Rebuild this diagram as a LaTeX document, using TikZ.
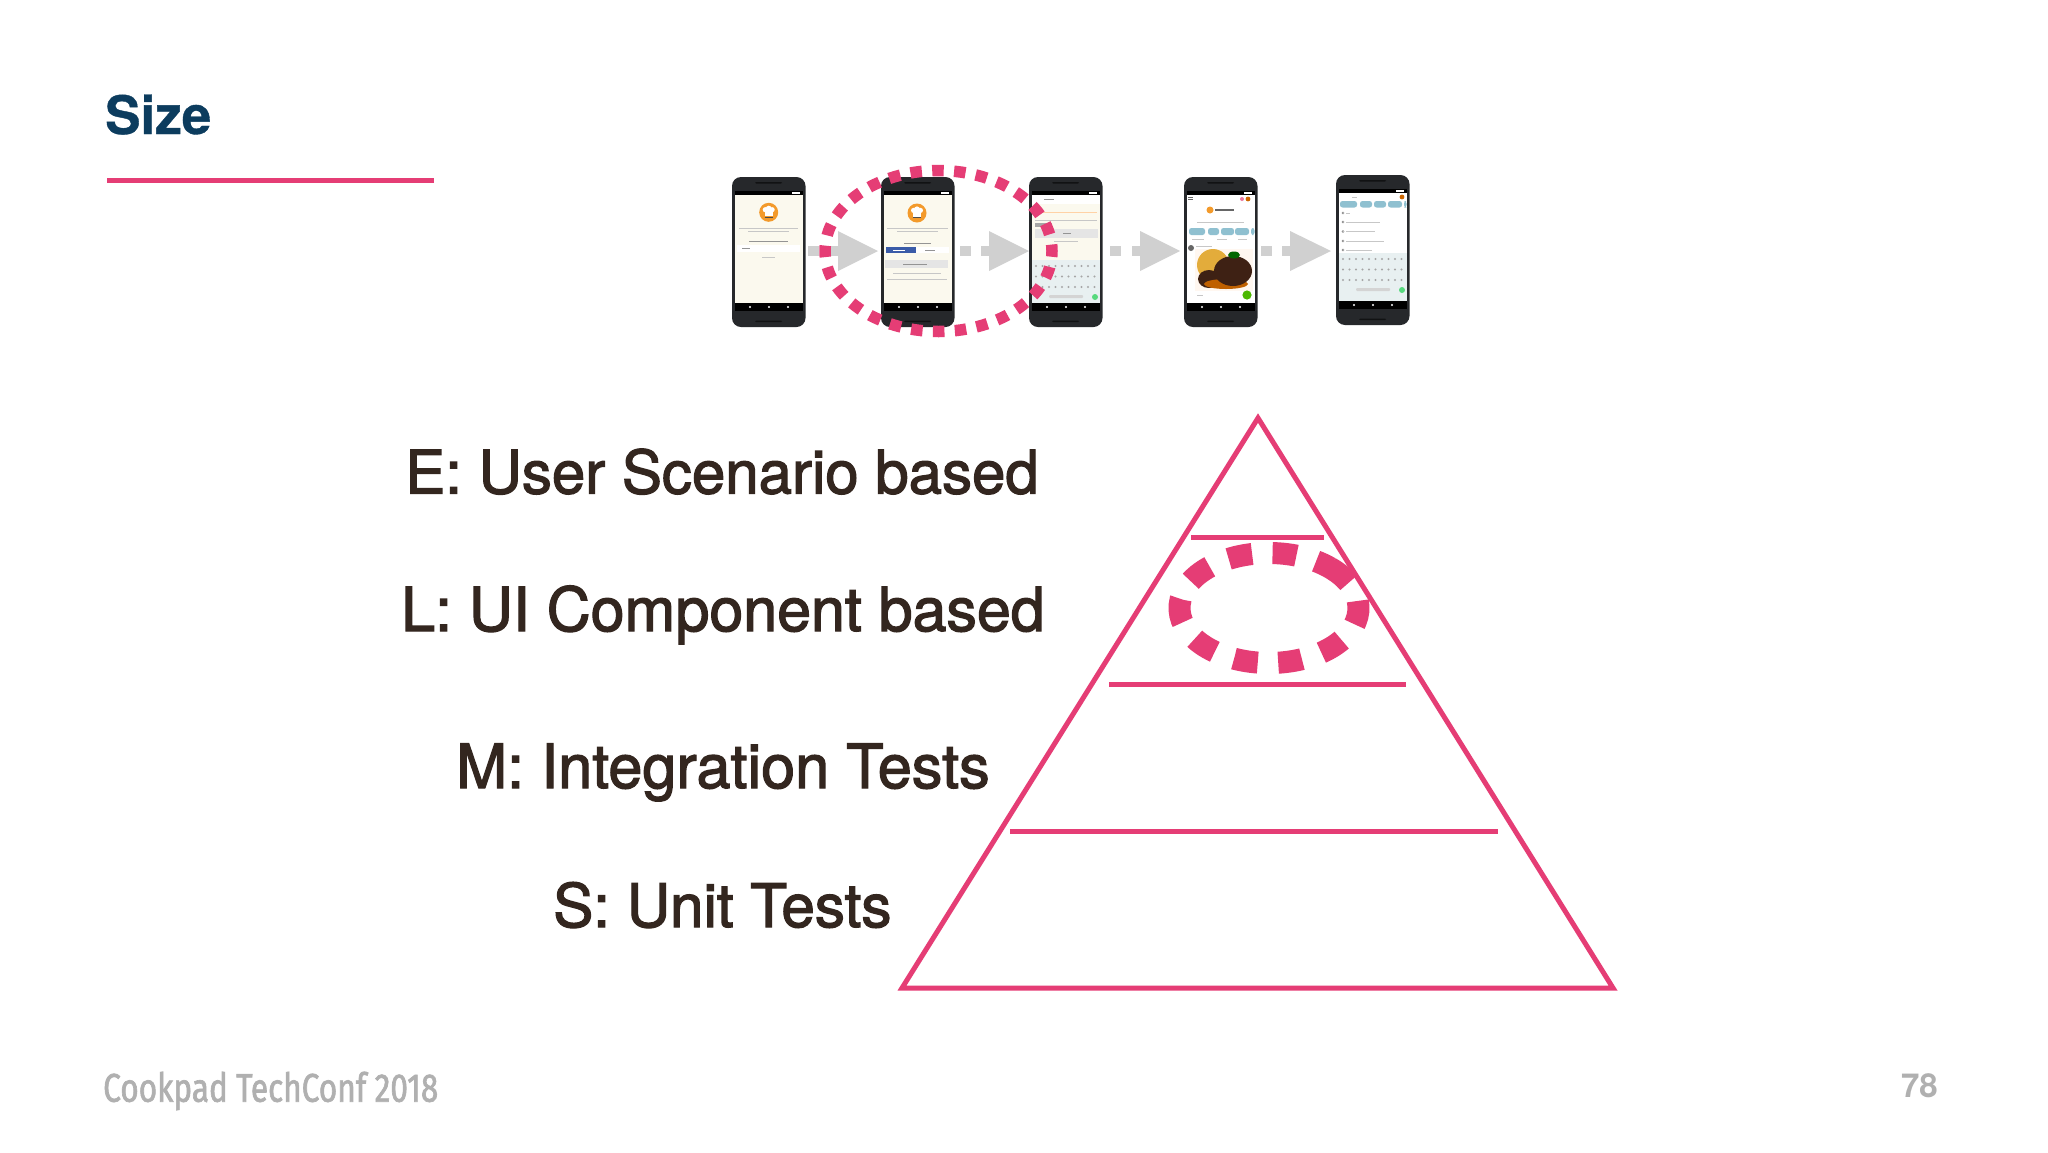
\documentclass[tikz,border=0pt]{standalone}
\usepackage{fontspec}
\setmainfont{TeX Gyre Heros}
\newfontfamily\lblfont[FakeBold=2]{TeX Gyre Heros}
\newfontfamily\footfont[FakeStretch=0.79,FakeBold=1.6]{Fira Sans}
\definecolor{pinkc}{HTML}{E53D75}
\definecolor{titlec}{HTML}{0C3C5E}
\definecolor{textc}{HTML}{33261F}
\definecolor{footc}{HTML}{B0B0B0}
\definecolor{arrowc}{HTML}{D0D0D0}
\definecolor{bodyc}{HTML}{26282B}
\definecolor{creamc}{HTML}{FBF9EE}
\definecolor{tealc}{HTML}{8FC0D0}
\definecolor{keyc}{HTML}{E8F0F1}
\definecolor{fbblue}{HTML}{3A5BA8}
\definecolor{chefc}{HTML}{F39A2B}
\definecolor{meatc}{HTML}{3E2114}
\definecolor{ricec}{HTML}{E3AC3B}
\tikzset{
  x=1pt,y=-1pt,
  pinkline/.style={draw=pinkc,line width=5pt},
  lbl/.style={anchor=base west,inner sep=0pt,text=textc},
  tiny/.style={draw=black!22,line width=0.9pt},
  tinydark/.style={draw=black!42,line width=0.9pt},
}
\newcommand{\lblsize}[1]{\lblfont\fontsize{#1}{#1}\selectfont}
\newcommand{\phonebody}[1]{%
  \fill[bodyc,rounded corners=9pt] (0,0) rectangle (73.5,150);
  \fill[black!55!bodyc,rounded corners=1pt] (23,5) rectangle (50,6.5);
  \fill[black!55!bodyc,rounded corners=1pt] (23,143.5) rectangle (50,145);
  \fill[black] (2.8,13.5) rectangle (70.5,18);
  \fill[#1] (2.8,18) rectangle (70.5,126);
  \fill[black] (2.8,126) rectangle (70.5,134);
  \foreach \q in {18,37,56}{\fill[white] (\q,130) circle (1.1);}
  \fill[white] (60,15) rectangle (68,16.5);
}
\newcommand{\cheflogo}[2]{%
  \fill[chefc] (#1,#2) circle (9.5);
  \fill[white] (#1-3.4,#2-2.6) circle (2.6);
  \fill[white] (#1+3.4,#2-2.6) circle (2.6);
  \fill[white] (#1,#2-3.6) circle (3);
  \fill[white] (#1-4,#2-2) rectangle (#1+4,#2+4);
  \draw[black!70,line width=0.8pt] (#1-4,#2+4.8) -- (#1+4,#2+4.8);
}
\newcommand{\keyboard}[1]{%
  \fill[keyc] (2.8,#1) rectangle (70.5,126);
  \foreach \r in {0,1,2}{\foreach \k in {0,...,9}{
    \fill[black!35] ({7+\k*6.5},{#1+6+\r*10.5}) circle (1.1);}}
  \fill[black!17,rounded corners=1pt] (20,#1+35) rectangle (54,#1+38);
  \fill[tealc!60!green] (66,#1+37) circle (3);
}
\begin{document}
\begin{tikzpicture}
\useasboundingbox (0,0) rectangle (2048,1152);
\fill[white] (0,0) rectangle (2048,1152);

% title
\node[anchor=base west,inner sep=0pt,text=titlec,font=\bfseries\fontsize{53}{53}\selectfont\addfontfeature{FakeBold=0.7}] (title) at (105,134) {Size};
\coordinate (ruleL) at (107,180.7);
\coordinate (ruleR) at (434,180.7);
\draw[pinkc,line width=4.7pt] (ruleL) -- (ruleR);

% arrows between phones
\foreach \sq/\rc/\tb/\tip in {808/829/838/878, 960/981/989/1029, 1110/1132/1140/1180, 1261/1282/1290/1331}{
  \fill[arrowc] (\sq,246) rectangle (\sq+10.5,256);
  \fill[arrowc] (\rc,246) rectangle (\tb,256);
  \fill[arrowc] (\tb,231) -- (\tip,251) -- (\tb,271) -- cycle;
}

% phone 1
\begin{scope}[shift={(732,177)}]
  \phonebody{creamc}
  \cheflogo{36.7}{35.3}
  \draw[tiny] (7,51) -- (66,51); \draw[tiny] (16,54.5) -- (57,54.5);
  \draw[tinydark] (17,64) -- (56,64);
  \fill[white] (5,68) rectangle (68,74.5);
  \draw[tinydark] (10,71) -- (18,71);
  \draw[tiny] (30,80) -- (43,80);
\end{scope}

% phone 2
\begin{scope}[shift={(881,177)}]
  \phonebody{creamc}
  \cheflogo{36}{36}
  \draw[tiny] (6,51) -- (67,51); \draw[tiny] (16,54.5) -- (57,54.5);
  \draw[tinydark] (23,66) -- (50,66);
  \fill[fbblue] (4.5,70) rectangle (35,76);
  \fill[white] (35,70) rectangle (68,76);
  \draw[white,line width=0.9pt] (12,73) -- (24,73);
  \draw[tinydark] (44,73) -- (54,73);
  \fill[black!10] (4,83) rectangle (67,91);
  \draw[tinydark] (22,87) -- (46,87);
  \draw[tiny] (12,96) -- (60,96);
  \draw[tiny] (6,102) -- (66,102);
\end{scope}

% phone 3
\begin{scope}[shift={(1029,177)}]
  \phonebody{creamc}
  \fill[white] (2.8,18) rectangle (70.5,27);
  \draw[tinydark] (15,22) -- (25,22);
  \draw[orange!35,line width=0.8pt] (6,35) -- (68,35);
  \draw[tiny,line width=0.6pt] (6,43.5) -- (68,43.5);
  \fill[black!35] (6,46) rectangle (23,50);
  \fill[black!10] (6,52) rectangle (69,61);
  \draw[tinydark] (34,56.5) -- (42,56.5);
  \draw[tiny] (25,64) -- (49,64);
  \keyboard{83}
\end{scope}

% phone 4
\begin{scope}[shift={(1184,177)}]
  \phonebody{white}
  \draw[black!60,line width=1pt] (4,20) -- (9,20) (4,22) -- (9,22);
  \fill[pinkc!70] (58,22) circle (2);
  \fill[orange!80!black] (64,22) circle (2.4);
  \fill[chefc] (26,33) circle (3.5);
  \draw[black!60,line width=1.6pt] (31,33) -- (50,33);
  \draw[tiny] (13,45) -- (60,45);
  \foreach \a/\b in {5/21,24/35,37/50,51/65,67/70.5}{\fill[tealc,rounded corners=2.5pt] (\a,51) rectangle (\b,58);}
  \draw[tiny,line width=.6pt] (8,62) -- (20,62) (33,62) -- (43,62) (54,62) -- (63,62);
  \fill[black!60] (7,71) circle (3);
  \draw[tiny,line width=.6pt] (12,69) -- (28,69);
  \fill[orange!6] (11,72) rectangle (69,114);
  \fill[ricec] (29,88) ellipse (16 and 16);
  \fill[meatc] (25,102) ellipse (11 and 9);
  \fill[orange!75!black] (42,107) ellipse (22 and 5);
  \fill[meatc] (49,94) ellipse (19 and 15);
  \fill[green!40!black] (50,78) ellipse (6 and 3.5);
  \fill[green!60!black!70!yellow] (63,118) circle (4.6);
  \draw[tiny,line width=.7pt] (13,118) -- (19,118);
\end{scope}

% phone 5
\begin{scope}[shift={(1336,175)}]
  \phonebody{white}
  \foreach \a/\b in {4/21,24/36,38/50,52/66,68/70.5}{\fill[tealc,rounded corners=2.5pt] (\a,26) rectangle (\b,32.5);}
  \draw[tiny,line width=.7pt] (16,22) -- (21,22);
  \fill[orange!80!black] (66,22) circle (2.4);
  \foreach \yy/\xe in {38/14,47/44,56.5/39,66/48,75/36}{
    \draw[black!50,line width=.5pt] (7,\yy) circle (1.1);
    \draw[tiny,line width=.7pt] (10,\yy) -- (\xe,\yy);
  }
  \keyboard{78}
\end{scope}

% dashed ellipse round the second phone
\node[draw=none,inner sep=0pt,minimum size=0pt] (hlcentre) at (938.5,251) {};
\draw[pinkc,line width=11.5pt,dash pattern=on 11.5pt off 10.4pt,dash phase=5.75pt] (hlcentre) ++(113.5,0) arc[start angle=0,delta angle=360,x radius=113.5,y radius=80.5];

% pyramid
\coordinate (apex) at (1258,418);
\coordinate (bl) at (902,988);
\coordinate (br) at (1613,988);
\draw[pinkline,line join=miter] (apex) -- (bl) -- (br) -- cycle;
\coordinate (a1) at (1191,537); \coordinate (a2) at (1324,537);
\coordinate (b1) at (1109,684); \coordinate (b2) at (1406,684);
\coordinate (c1) at (1010,831); \coordinate (c2) at (1498,831);
\draw[pinkline] (a1) -- (a2);
\draw[pinkline] (b1) -- (b2);
\draw[pinkline] (c1) -- (c2);

% dashed ellipse in the pyramid
\node[draw=none,inner sep=0pt,minimum size=0pt] (lcentre) at (1269,608) {};
\draw[pinkc,line width=22pt,dash pattern=on 24pt off 20.5pt] (lcentre) ++(-47:89.5 and 55) arc[start angle=-47,delta angle=360,x radius=89.5,y radius=55];

% labels
\node[lbl,font=\lblsize{60}] (e) at (405,493.5) {E: User Scenario based};
\node[lbl,font=\lblsize{60.9}] (l) at (401,631) {L: UI Component based};
\node[lbl,font=\lblsize{61.2}] (m) at (456,788) {M: Integration Tests};
\node[lbl,font=\lblsize{60.2}] (s) at (553,927) {S: Unit Tests};

% footer
\node[anchor=base west,inner sep=0pt,text=footc,font=\footfont\fontsize{40}{40}\selectfont] (foot) at (103,1101.7) {Cookpad TechConf 2018};
\node[anchor=base east,inner sep=0pt,text=footc,font=\bfseries\fontsize{33}{33}\selectfont] (page) at (1938,1097) {78};
\end{tikzpicture}
\end{document}
